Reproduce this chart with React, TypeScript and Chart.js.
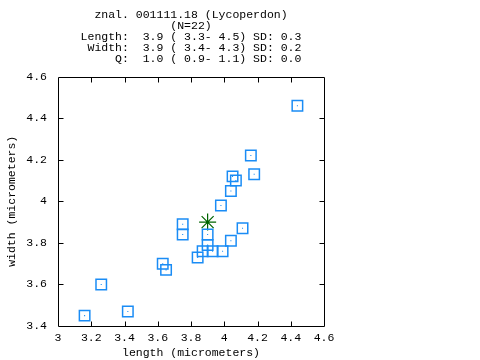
import React, { useEffect, useRef } from "react";
import { Chart, registerables } from "chart.js";

Chart.register(...registerables);

const titleLines = [
  "znal. 001111.18 (Lycoperdon)",
  "(N=22)",
  "Length:  3.9 ( 3.3- 4.5) SD: 0.3",
  " Width:  3.9 ( 3.4- 4.3) SD: 0.2",
  "     Q:  1.0 ( 0.9- 1.1) SD: 0.0",
];

const lengths = [4.44, 4.16, 4.18, 4.05, 4.07, 4.04, 3.98, 3.75, 3.75, 3.9, 4.11, 4.04, 3.9, 3.87, 3.93, 3.99, 3.84, 3.63, 3.65, 3.26, 3.42, 3.16];
const widths = [4.46, 4.22, 4.13, 4.12, 4.1, 4.05, 3.98, 3.89, 3.84, 3.84, 3.87, 3.81, 3.79, 3.76, 3.76, 3.76, 3.73, 3.7, 3.67, 3.6, 3.47, 3.45];

const meanLength = [3.9];
const meanWidth = [3.9];

const xTickValues = [3, 3.2, 3.4, 3.6, 3.8, 4, 4.2, 4.4, 4.6];
const xTickLabels = ["3", "3.2", "3.4", "3.6", "3.8", "4", "4.2", "4.4", "4.6"];
const yTickValues = [3.4, 3.6, 3.8, 4, 4.2, 4.4, 4.6];
const yTickLabels = ["3.4", "3.6", "3.8", "4", "4.2", "4.4", "4.6"];

const FONT = "'Liberation Mono', 'DejaVu Sans Mono', monospace";
const BLUE = "#1A8CF5";
const GREEN = "#006400";

const framePlugin = {
  id: "frame",
  afterDatasetsDraw(chart: any) {
    const { ctx, chartArea } = chart;
    const { left, right, top, bottom } = chartArea;
    const tl = 5;
    ctx.save();
    ctx.strokeStyle = "#000";
    ctx.lineWidth = 1;
    ctx.beginPath();
    const L = Math.round(left) + 0.5;
    const R = Math.round(right) + 0.5;
    const T = Math.round(top) + 0.5;
    const B = Math.round(bottom) + 0.5;
    ctx.rect(L, T, R - L, B - T);
    const xs = chart.scales.x;
    xs.ticks.forEach((t: any, i: number) => {
      const px = Math.round(xs.getPixelForTick(i)) + 0.5;
      if (px <= L + 1 || px >= R - 1) return;
      ctx.moveTo(px, B);
      ctx.lineTo(px, B - tl);
      ctx.moveTo(px, T);
      ctx.lineTo(px, T + tl);
    });
    const ys = chart.scales.y;
    ys.ticks.forEach((t: any, i: number) => {
      const py = Math.round(ys.getPixelForTick(i)) + 0.5;
      if (py <= T + 1 || py >= B - 1) return;
      ctx.moveTo(L, py);
      ctx.lineTo(L + tl, py);
      ctx.moveTo(R, py);
      ctx.lineTo(R - tl, py);
    });
    ctx.stroke();
    ctx.restore();
  },
};

export default function App() {
  const ref = useRef<HTMLCanvasElement | null>(null);

  useEffect(() => {
    if (!ref.current) return;
    const points = lengths.map((l, i) => ({ x: l, y: widths[i] }));
    const mean = meanLength.map((l, i) => ({ x: l, y: meanWidth[i] }));
    const chart = new Chart(ref.current, {
      type: "scatter",
      data: {
        datasets: [
          {
            data: points,
            pointStyle: "rect",
            pointRadius: 7.4,
            pointBorderWidth: 1.5,
            pointBorderColor: BLUE,
            pointBackgroundColor: "rgba(0,0,0,0)",
          },
          {
            data: points,
            pointStyle: "rect",
            pointRadius: 0.75,
            pointBorderWidth: 0,
            pointBackgroundColor: BLUE,
            pointBorderColor: BLUE,
          },
          {
            data: mean,
            pointStyle: "star",
            pointRadius: 8.5,
            pointBorderWidth: 1.2,
            pointBorderColor: GREEN,
            pointBackgroundColor: GREEN,
          },
          {
            data: mean,
            pointStyle: "circle",
            pointRadius: 1.5,
            pointBorderWidth: 0,
            pointBackgroundColor: GREEN,
          },
        ],
      },
      options: {
        responsive: false,
        animation: false,
        events: [],
        layout: { padding: { left: 0, right: 156, top: 0, bottom: 0 } },
        plugins: {
          legend: { display: false },
          tooltip: { enabled: false },
          title: {
            display: true,
            fullSize: false,
            text: titleLines,
            color: "#000",
            font: { family: FONT, size: 11.5, weight: "normal", lineHeight: 0.95 },
            padding: { top: 9.5, bottom: 12.5 },
          },
        },
        scales: {
          x: {
            type: "linear",
            min: 3,
            max: 4.6,
            grid: { display: false, drawTicks: false },
            border: { display: false },
            afterBuildTicks: (s: any) => {
              s.ticks = xTickValues.map((v) => ({ value: v }));
            },
            afterFit: (s: any) => {
              s.height = 34;
            },
            ticks: {
              color: "#000",
              padding: 5,
              maxRotation: 0,
              autoSkip: false,
              font: { family: FONT, size: 11.5 },
              callback: (_v: any, i: number) => xTickLabels[i],
            },
            title: {
              display: true,
              text: "length (micrometers)",
              color: "#000",
              font: { family: FONT, size: 11.5 },
              padding: { top: 0, bottom: 0 },
            },
          },
          y: {
            type: "linear",
            min: 3.4,
            max: 4.6,
            grid: { display: false, drawTicks: false },
            border: { display: false },
            afterBuildTicks: (s: any) => {
              s.ticks = yTickValues.map((v) => ({ value: v }));
            },
            afterFit: (s: any) => {
              s.width = 58;
            },
            ticks: {
              color: "#000",
              padding: 11,
              autoSkip: false,
              font: { family: FONT, size: 11.5 },
              callback: (_v: any, i: number) => yTickLabels[i],
            },
            title: {
              display: true,
              text: "width (micrometers)",
              color: "#000",
              font: { family: FONT, size: 11.5 },
              padding: { top: 5, bottom: 0 },
            },
          },
        },
      },
      plugins: [framePlugin],
    });
    return () => chart.destroy();
  }, []);

  return (
    <div style={{ position: "absolute", left: 0, top: 0, width: 480, height: 360, background: "#fff" }}>
      <canvas ref={ref} width={480} height={360} />
    </div>
  );
}
